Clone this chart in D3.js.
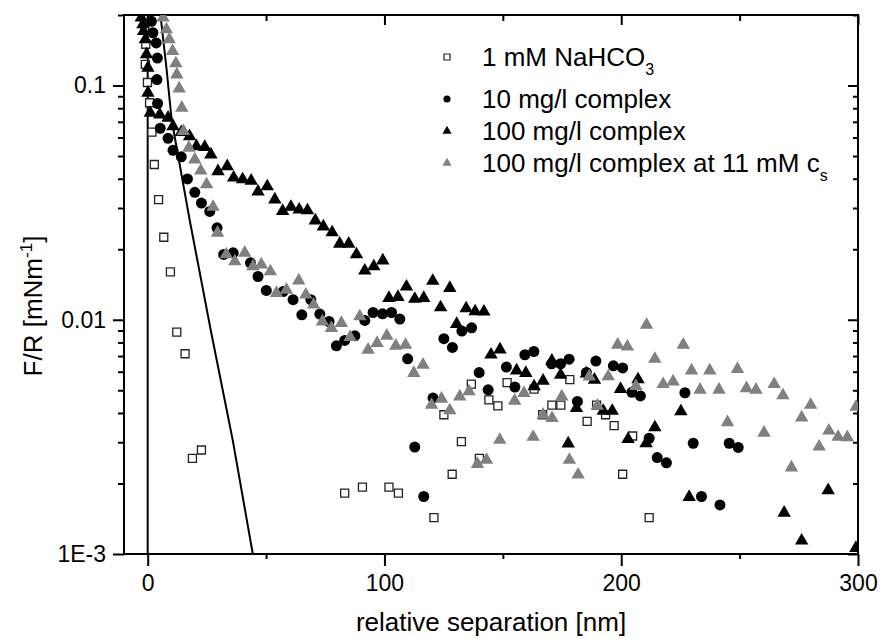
<!DOCTYPE html>
<html>
<head>
<meta charset="utf-8">
<script src="https://cdn.jsdelivr.net/npm/d3@7/dist/d3.min.js"></script>
<style>
body { margin: 0; background: #fff; }
svg text { font-family: "Liberation Sans", Arial, sans-serif; fill: #000; }
</style>
</head>
<body>
<div id="chart"></div>
<script>
// separation [nm], F/R [mN/m]
var naHCO3 = [[-1.3,0.173],[-0.8,0.150],[-1.0,0.123],[-0.1,0.103],[0.8,0.0844],[1.8,0.0632],[2.8,0.0460],[4.6,0.0326],[6.8,0.0225],[9.6,0.0160],[12.3,0.00886],[15.8,0.00716],[18.9,0.00256],[22.7,0.00278],[83.2,0.00182],[90.7,0.00193],[101.9,0.00193],[105.9,0.00182],[120.9,0.00143],[125.1,0.00393],[128.6,0.00219],[132.5,0.00302],[136.7,0.00531],[140.1,0.00256],[144.1,0.00455],[147.9,0.00429],[151.8,0.00539],[163.2,0.00506],[166.8,0.00393],[170.7,0.00432],[174.5,0.00432],[178.3,0.00555],[185.6,0.00368],[189.6,0.00432],[193.4,0.00393],[197,0.00353],[200.6,0.00219],[204.8,0.00319],[211.8,0.00143]];

var complex10 = [[1.6,0.188],[2.2,0.168],[3.6,0.152],[4.1,0.131],[3.9,0.106],[4.2,0.0838],[5.3,0.0657],[8.6,0.0595],[10.7,0.0529],[14.2,0.0496],[16.8,0.0399],[19.9,0.0350],[22.7,0.0315],[26.2,0.0290],[29.3,0.0247],[32.1,0.0190],[36.1,0.0193],[43.4,0.0175],[46.6,0.0153],[50.1,0.01334],[57.2,0.0132],[61.4,0.01218],[65.1,0.0105],[68.9,0.01218],[72.7,0.01057],[76.6,0.00983],[79.7,0.00774],[83.2,0.00816],[87.5,0.00854],[91.7,0.00993],[95.2,0.01074],[99.2,0.0106],[103,0.01074],[106.5,0.01007],[109.8,0.00681],[112.8,0.00286],[116.6,0.00176],[120.5,0.00463],[125.1,0.0083],[128.7,0.00762],[132.7,0.00895],[136.8,0.00924],[140,0.00595],[143.8,0.00502],[151.5,0.00628],[155.1,0.00516],[159.3,0.00709],[163.1,0.00732],[170.6,0.00649],[174.4,0.00649],[178,0.00679],[181.5,0.00448],[185.3,0.00596],[189.3,0.00666],[196.7,0.00636],[200.6,0.00623],[204.5,0.0049],[208.1,0.00473],[211.8,0.00312],[215.2,0.00258],[219.1,0.00245],[226.9,0.00488],[230.4,0.00297],[233.9,0.00176],[241.7,0.00162],[245.6,0.00297],[249.4,0.00285]];

var complex100 = [[-2.7,0.1947],[-2.0,0.1823],[-1.7,0.1706],[-1.0,0.1573],[-0.5,0.1357],[0.1,0.119],[0.1,0.0931],[1.1,0.0764],[5.1,0.0752],[8.6,0.0728],[10.7,0.067],[14.2,0.0632],[17.7,0.0607],[20.6,0.055],[24.1,0.0546],[26.7,0.0507],[29.7,0.043],[33.6,0.0452],[36.3,0.0404],[40.1,0.0397],[43.7,0.0392],[46.6,0.0352],[50.5,0.0371],[53.7,0.0326],[57.0,0.0291],[60.5,0.0303],[64.0,0.0295],[67.5,0.0293],[70.8,0.0265],[74.2,0.025],[77.9,0.0236],[81.1,0.0211],[84.9,0.0211],[88.2,0.019],[91.7,0.0162],[95.5,0.0169],[99.3,0.0179],[101.9,0.01238],[105.7,0.0125],[109.3,0.01384],[112.8,0.01227],[116.6,0.01238],[120.4,0.01464],[123.7,0.01129],[127.6,0.01366],[130.5,0.00958],[134.5,0.01118],[138.3,0.01085],[142,0.01082],[145,0.00709],[148.8,0.00746],[155.8,0.00607],[159.7,0.00592],[163.2,0.00519],[167,0.00549],[170.7,0.00668],[174.4,0.00582],[177.6,0.00296],[181.1,0.00419],[185.3,0.00589],[188.7,0.00554],[192.4,0.00408],[196.2,0.00408],[199.7,0.00506],[202.9,0.00309],[207.1,0.00556],[210.5,0.00297],[214.2,0.00347],[225.2,0.00406],[228.7,0.00175],[268.8,0.0015],[276.2,0.00114],[287.4,0.00187],[299.1,0.00106]];

var complex100salt = [[6.5,0.1947],[7.9,0.1735],[9.1,0.1573],[10.5,0.1401],[11.9,0.1242],[12.3,0.1114],[13.3,0.0971],[14.4,0.0803],[15.1,0.0638],[17.4,0.0542],[19.9,0.0483],[22.4,0.0433],[24.9,0.0378],[27.6,0.0303],[29.5,0.0235],[33.2,0.019],[36.8,0.01775],[41,0.0193],[44.5,0.0169],[48,0.01718],[51.8,0.01608],[54.4,0.013],[58.6,0.01343],[63.8,0.01468],[66.8,0.01279],[70.1,0.01159],[73.8,0.00983],[77.6,0.00922],[81.8,0.00968],[85.5,0.00843],[89.6,0.01033],[93.1,0.00744],[96.9,0.00795],[101,0.00854],[104.8,0.00774],[108.9,0.00781],[112.4,0.00592],[116.3,0.00642],[119.9,0.00433],[124.1,0.0046],[127.6,0.0041],[131.8,0.0047],[135.7,0.00494],[139.3,0.00242],[143.1,0.00252],[148.7,0.00307],[155,0.00451],[158.9,0.00486],[162.8,0.00316],[167,0.00393],[170.8,0.0038],[174.9,0.0047],[178.1,0.00252],[181.8,0.00218],[186.5,0.00572],[189.9,0.00429],[194.5,0.00573],[198.5,0.00782],[202.6,0.00767],[206.2,0.00521],[210.7,0.0095],[214.2,0.0068],[217.7,0.00531],[221.9,0.00545],[226.2,0.00782],[229.7,0.00607],[233.3,0.00502],[237.4,0.00607],[241.3,0.00502],[244.9,0.00365],[249.1,0.00616],[252.9,0.0051],[256.9,0.00502],[260.3,0.00329],[264.6,0.00531],[268.3,0.00475],[271.9,0.00234],[276.2,0.00382],[280,0.00433],[283.6,0.00287],[287.7,0.00336],[291.6,0.00316],[295.5,0.00315],[299.2,0.00425]];

// fitted decay curve and the contact line at zero separation
var fitCurve = [[5.4,0.2],[8.0,0.117],[10.1,0.0716],[17.7,0.0268],[26.6,0.00906],[35.9,0.00307],[44.4,0.001]];
var wallX = 0;

var xTicks = [0, 100, 200, 300];
var xMinorTicks = [50, 150, 250];
var yTicks = [0.001, 0.01, 0.1];
var yTickLabels = ["1E-3", "0.01", "0.1"];
var legendLabels = [["1 mM NaHCO", "3"], ["10 mg/l complex", ""], ["100 mg/l complex", ""], ["100 mg/l complex at 11 mM c", "s"]];

var width = 882, height = 639;
var margin = {top: 15, right: 24, bottom: 85, left: 124};
var w = width - margin.left - margin.right,
    h = height - margin.top - margin.bottom;

var x = d3.scaleLinear().domain([-10, 300]).range([0, w]);
var y = d3.scaleLog().domain([0.001, 0.2]).range([h, 0]);

var yMinor = [];
[0.001, 0.01, 0.1].forEach(function (d) {
    for (var k = 2; k <= 9; k++) {
        if (d * k <= 0.2 + 1e-9) yMinor.push(d * k);
    }
});

var svg = d3.select("#chart").append("svg")
    .attr("width", width)
    .attr("height", height);

svg.append("defs").append("clipPath")
    .attr("id", "clip")
    .append("rect")
    .attr("width", w)
    .attr("height", h);

var g = svg.append("g")
    .attr("transform", "translate(" + margin.left + "," + margin.top + ")");

function styleAxis(sel) {
    sel.select(".domain").remove();
    sel.selectAll(".tick line").attr("stroke", "#000").attr("stroke-width", 2);
    sel.selectAll(".tick text").attr("font-size", 23);
}

// bottom axis
g.append("g")
    .attr("transform", "translate(0," + h + ")")
    .call(d3.axisBottom(x).tickValues(xTicks).tickSize(12).tickPadding(9).tickFormat(d3.format("d")))
    .call(styleAxis);
g.append("g")
    .attr("transform", "translate(0," + h + ")")
    .call(d3.axisBottom(x).tickValues(xMinorTicks).tickSize(5).tickFormat(""))
    .call(styleAxis);

// top axis, ticks inward
g.append("g")
    .call(d3.axisBottom(x).tickValues(xTicks).tickSize(10).tickFormat(""))
    .call(styleAxis);
g.append("g")
    .call(d3.axisBottom(x).tickValues(xMinorTicks).tickSize(6).tickFormat(""))
    .call(styleAxis);

// left axis
g.append("g")
    .call(d3.axisLeft(y).tickValues(yTicks).tickSize(11).tickPadding(7)
        .tickFormat(function (d, i) { return yTickLabels[i]; }))
    .call(styleAxis);
g.append("g")
    .call(d3.axisLeft(y).tickValues(yMinor).tickSize(6).tickFormat(""))
    .call(styleAxis);

// right axis, ticks inward
g.append("g")
    .attr("transform", "translate(" + w + ",0)")
    .call(d3.axisLeft(y).tickValues(yTicks).tickSize(10).tickFormat(""))
    .call(styleAxis);
g.append("g")
    .attr("transform", "translate(" + w + ",0)")
    .call(d3.axisLeft(y).tickValues(yMinor).tickSize(5).tickFormat(""))
    .call(styleAxis);

g.append("rect")
    .attr("width", w)
    .attr("height", h)
    .attr("fill", "none")
    .attr("stroke", "#000")
    .attr("stroke-width", 2);

var plot = g.append("g").attr("clip-path", "url(#clip)");

plot.append("line")
    .attr("x1", x(wallX)).attr("x2", x(wallX))
    .attr("y1", y(0.2)).attr("y2", y(0.001))
    .attr("stroke", "#000")
    .attr("stroke-width", 2);

var line = d3.line()
    .x(function (d) { return x(d[0]); })
    .y(function (d) { return y(d[1]); });

plot.append("path")
    .datum(fitCurve)
    .attr("d", line)
    .attr("fill", "none")
    .attr("stroke", "#000")
    .attr("stroke-width", 2);

var sqSym = d3.symbol().type(d3.symbolSquare).size(64);
var circSym = d3.symbol().type(d3.symbolCircle).size(95);
var triSym = d3.symbol().type(d3.symbolTriangle).size(78);

function drawPoints(data, sym, fill, stroke, sw) {
    plot.append("g").selectAll("path")
        .data(data)
        .enter().append("path")
        .attr("transform", function (d) { return "translate(" + x(d[0]) + "," + y(d[1]) + ")"; })
        .attr("d", sym)
        .attr("fill", fill)
        .attr("stroke", stroke)
        .attr("stroke-width", sw);
}

drawPoints(naHCO3, sqSym, "#fff", "#222", 1.3);
drawPoints(complex10, circSym, "#000", "none", 0);
drawPoints(complex100, triSym, "#000", "none", 0);
drawPoints(complex100salt, triSym, "#808080", "none", 0);

// axis titles
svg.append("text")
    .attr("x", margin.left + w / 2)
    .attr("y", 631)
    .attr("text-anchor", "middle")
    .attr("font-size", 26)
    .text("relative separation [nm]");

var yTitle = svg.append("text")
    .attr("transform", "translate(42,306) rotate(-90)")
    .attr("text-anchor", "middle")
    .attr("font-size", 26);
yTitle.append("tspan").text("F/R [mNm");
yTitle.append("tspan").attr("font-size", 17).attr("dy", -10).text("-1");
yTitle.append("tspan").attr("dy", 10).text("]");

// legend
var legendY = [57, 99, 131, 163];
var legendSyms = [
    d3.symbol().type(d3.symbolSquare).size(36),
    d3.symbol().type(d3.symbolCircle).size(40),
    d3.symbol().type(d3.symbolTriangle).size(36),
    d3.symbol().type(d3.symbolTriangle).size(36)
];
var legendFill = ["#fff", "#000", "#000", "#808080"];
var legend = svg.append("g");
legendLabels.forEach(function (lab, i) {
    legend.append("path")
        .attr("transform", "translate(447," + legendY[i] + ")")
        .attr("d", legendSyms[i])
        .attr("fill", legendFill[i])
        .attr("stroke", i === 0 ? "#222" : "none")
        .attr("stroke-width", 1.2);
    var t = legend.append("text")
        .attr("x", 482)
        .attr("y", legendY[i] + 9)
        .attr("font-size", 26);
    t.append("tspan").text(lab[0]);
    if (lab[1]) t.append("tspan").attr("font-size", 16).attr("dy", 9).text(lab[1]);
});
</script>
</body>
</html>
